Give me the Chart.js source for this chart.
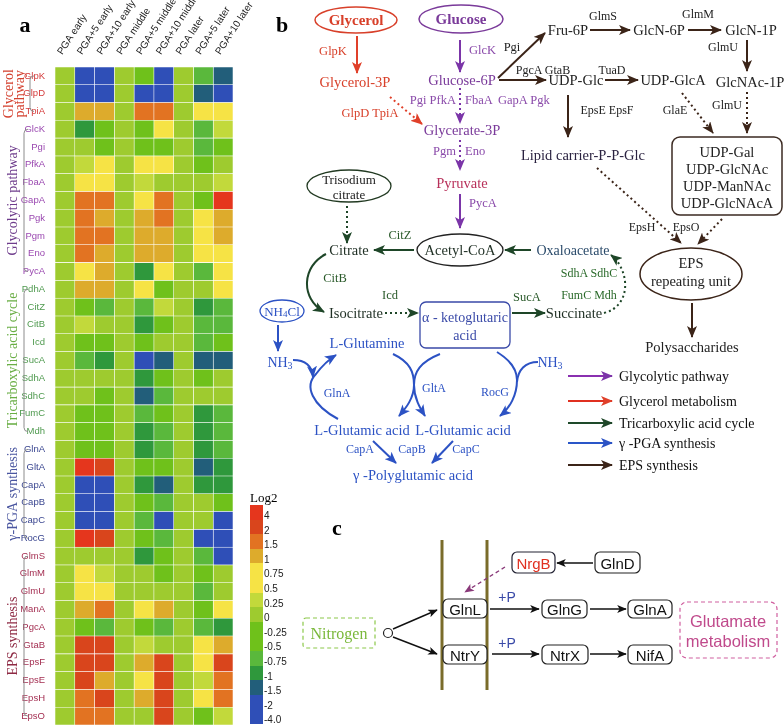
<!DOCTYPE html>
<html>
<head>
<meta charset="utf-8">
<script src="https://cdn.jsdelivr.net/npm/chart.js@4.4.1/dist/chart.umd.min.js"></script>
<style>
body { margin: 0; background: #fff; }
#page { position: relative; width: 784px; height: 728px; overflow: hidden; background: #fff; }
#heat { position: absolute; left: 0; top: 0; }
#diagram { position: absolute; left: 0; top: 0; pointer-events: none; }
#diagram text { dominant-baseline: central; text-anchor: middle; font-family: "Liberation Serif", serif; }
#diagram .sans { font-family: "Liberation Sans", Arial, sans-serif; }
.cb { position: absolute; left: 250px; width: 13px; }
.cbl { position: absolute; left: 264px; font: 10px "Liberation Sans", Arial, sans-serif; color: #222; line-height: 10px; }
#log2 { position: absolute; left: 250px; top: 490px; font: 13px "Liberation Serif", serif; }
</style>
</head>
<body>
<div id="page">
<canvas id="heat" width="262" height="728"></canvas>
<div id="log2">Log2</div>
<div id="colorbar"></div>

<svg id="diagram" width="784" height="728" viewBox="0 0 784 728">
<defs>
  <marker id="mRed" viewBox="0 0 12 10" refX="11" refY="5" markerWidth="12" markerHeight="10" markerUnits="userSpaceOnUse" orient="auto"><path d="M0,0 L12,5 L0,10 L3,5z" fill="#e0402a"/></marker>
  <marker id="mPur" viewBox="0 0 12 10" refX="11" refY="5" markerWidth="12" markerHeight="10" markerUnits="userSpaceOnUse" orient="auto"><path d="M0,0 L12,5 L0,10 L3,5z" fill="#7b35a8"/></marker>
  <marker id="mGrn" viewBox="0 0 12 10" refX="11" refY="5" markerWidth="12" markerHeight="10" markerUnits="userSpaceOnUse" orient="auto"><path d="M0,0 L12,5 L0,10 L3,5z" fill="#1e4628"/></marker>
  <marker id="mBlu" viewBox="0 0 12 10" refX="11" refY="5" markerWidth="12" markerHeight="10" markerUnits="userSpaceOnUse" orient="auto"><path d="M0,0 L12,5 L0,10 L3,5z" fill="#2c52c4"/></marker>
  <marker id="mBrn" viewBox="0 0 12 10" refX="11" refY="5" markerWidth="12" markerHeight="10" markerUnits="userSpaceOnUse" orient="auto"><path d="M0,0 L12,5 L0,10 L3,5z" fill="#3b2418"/></marker>
  <marker id="mBlk" viewBox="0 0 12 10" refX="11" refY="5" markerWidth="11" markerHeight="8" markerUnits="userSpaceOnUse" orient="auto"><path d="M0,0 L12,5 L0,10 L3,5z" fill="#111"/></marker>
  <marker id="mMag" viewBox="0 0 12 10" refX="11" refY="5" markerWidth="10" markerHeight="8" markerUnits="userSpaceOnUse" orient="auto"><path d="M0,0 L12,5 L0,10 L3,5z" fill="#8a3a7a"/></marker>
</defs>

<!-- panel letters -->
<text x="25" y="24" font-size="22" font-weight="bold">a</text>
<text x="282" y="24" font-size="22" font-weight="bold">b</text>
<text x="337" y="527" font-size="22" font-weight="bold">c</text>

<!-- glycerol / glycolysis -->
<ellipse cx="356" cy="20" rx="41" ry="13" fill="none" stroke="#d8402a" stroke-width="1.5"/>
<text x="356" y="20" font-size="15" font-weight="bold" fill="#d8402a">Glycerol</text>
<ellipse cx="461" cy="19" rx="42" ry="14" fill="none" stroke="#7a3a9a" stroke-width="1.5"/>
<text x="461" y="19" font-size="15" font-weight="bold" fill="#7a3a9a">Glucose</text>
<line x1="357" y1="36" x2="357" y2="73" stroke="#e0402a" stroke-width="2" marker-end="url(#mRed)"/>
<text x="333" y="51" font-size="12.5" fill="#d8402a">GlpK</text>
<text x="355" y="82" font-size="14.5" fill="#d8402a">Glycerol-3P</text>
<line x1="460" y1="40" x2="460" y2="72" stroke="#7b35a8" stroke-width="2" marker-end="url(#mPur)"/>
<text x="469" y="50" font-size="12.5" fill="#8a4aaa" style="text-anchor:start">GlcK</text>
<text x="462" y="80" font-size="14.5" fill="#7a3a9a">Glucose-6P</text>
<line x1="460" y1="88" x2="460" y2="123" stroke="#7b35a8" stroke-width="2" stroke-dasharray="2,3" marker-end="url(#mPur)"/>
<text x="456" y="100" font-size="12.5" fill="#8a4aaa" style="text-anchor:end">Pgi PfkA</text>
<text x="465" y="100" font-size="12.5" fill="#8a4aaa" style="text-anchor:start">FbaA</text>
<text x="498" y="100" font-size="12.5" fill="#8a4aaa" style="text-anchor:start">GapA Pgk</text>
<line x1="390" y1="97" x2="422" y2="124" stroke="#e0402a" stroke-width="2" stroke-dasharray="2,3" marker-end="url(#mRed)"/>
<text x="370" y="113" font-size="12.5" fill="#d8402a">GlpD TpiA</text>
<text x="462" y="130" font-size="14.5" fill="#7a3a9a">Glycerate-3P</text>
<line x1="460" y1="140" x2="460" y2="170" stroke="#7b35a8" stroke-width="2" stroke-dasharray="2,3" marker-end="url(#mPur)"/>
<text x="456" y="151" font-size="12.5" fill="#8a4aaa" style="text-anchor:end">Pgm</text>
<text x="465" y="151" font-size="12.5" fill="#8a4aaa" style="text-anchor:start">Eno</text>
<text x="462" y="183" font-size="14.5" fill="#b8305a">Pyruvate</text>
<line x1="460" y1="194" x2="460" y2="228" stroke="#7b35a8" stroke-width="2" marker-end="url(#mPur)"/>
<text x="469" y="203" font-size="12.5" fill="#8a4aaa" style="text-anchor:start">PycA</text>

<!-- TCA -->
<ellipse cx="349" cy="186" rx="42" ry="16" fill="none" stroke="#223a22" stroke-width="1.3"/>
<text x="349" y="179" font-size="13" fill="#222">Trisodium</text>
<text x="349" y="194" font-size="13" fill="#222">citrate</text>
<line x1="347" y1="206" x2="347" y2="243" stroke="#1e4628" stroke-width="2" stroke-dasharray="2,3" marker-end="url(#mGrn)"/>
<text x="349" y="250" font-size="14.5" fill="#1f2f24">Citrate</text>
<ellipse cx="460" cy="250" rx="43" ry="16" fill="none" stroke="#222" stroke-width="1.3"/>
<text x="460" y="250" font-size="14.5" fill="#1f2f24">Acetyl-CoA</text>
<line x1="414" y1="250" x2="374" y2="250" stroke="#1e4628" stroke-width="2" marker-end="url(#mGrn)"/>
<text x="400" y="235" font-size="12.5" fill="#2a5a2a">CitZ</text>
<line x1="531" y1="250" x2="505" y2="250" stroke="#1e4628" stroke-width="2" marker-end="url(#mGrn)"/>
<text x="573" y="250" font-size="14" fill="#2a4a6a">Oxaloacetate</text>
<path d="M326 254 C302 266, 300 298, 324 312" fill="none" stroke="#1e4628" stroke-width="2" marker-end="url(#mGrn)"/>
<text x="335" y="278" font-size="12.5" fill="#2a5a2a">CitB</text>
<text x="356" y="313" font-size="14.5" fill="#1f2f24">Isocitrate</text>
<text x="390" y="295" font-size="12.5" fill="#2a5a2a">Icd</text>
<line x1="385" y1="313" x2="418" y2="313" stroke="#1e4628" stroke-width="2" stroke-dasharray="2,3" marker-end="url(#mGrn)"/>
<rect x="420" y="302" width="90" height="46" rx="6" fill="none" stroke="#3a4aa8" stroke-width="1.3"/>
<text x="465" y="317" font-size="14" fill="#3a4aa8">α - ketoglutaric</text>
<text x="465" y="335" font-size="14" fill="#3a4aa8">acid</text>
<line x1="512" y1="313" x2="545" y2="313" stroke="#1e4628" stroke-width="2" marker-end="url(#mGrn)"/>
<text x="527" y="297" font-size="12.5" fill="#2a5a2a">SucA</text>
<text x="574" y="313" font-size="14.5" fill="#1f2f24">Succinate</text>
<path d="M604 313 C632 306, 630 270, 611 255" fill="none" stroke="#1e4628" stroke-width="2" stroke-dasharray="2,3" marker-end="url(#mGrn)"/>
<text x="589" y="273" font-size="12" fill="#2a6a2a">SdhA SdhC</text>
<text x="589" y="295" font-size="12" fill="#2a6a2a">FumC Mdh</text>

<!-- gamma-PGA -->
<ellipse cx="282" cy="311" rx="22" ry="11" fill="none" stroke="#2c52c4" stroke-width="1.3"/>
<text x="282" y="311" font-size="13" fill="#2c52c4">NH<tspan font-size="9" dy="3">4</tspan><tspan dy="-3">Cl</tspan></text>
<line x1="278" y1="325" x2="278" y2="351" stroke="#2c52c4" stroke-width="2" marker-end="url(#mBlu)"/>
<text x="280" y="362" font-size="14" fill="#2c52c4">NH<tspan font-size="10" dy="3">3</tspan></text>
<text x="367" y="343" font-size="14.5" fill="#2c52c4">L-Glutamine</text>
<path d="M338 419 C312 405, 304 386, 316 374 C322 366, 328 360, 336 355" fill="none" stroke="#2c52c4" stroke-width="2" marker-end="url(#mBlu)"/>
<path d="M293 360 C306 360, 312 366, 313 377" fill="none" stroke="#2c52c4" stroke-width="2" marker-end="url(#mBlu)"/>
<text x="337" y="393" font-size="12" fill="#2c52c4">GlnA</text>
<path d="M393 354 C410 362, 414 372, 414 385 C414 398, 420 408, 425 416" fill="none" stroke="#2c52c4" stroke-width="2" marker-end="url(#mBlu)"/>
<path d="M440 354 C420 362, 414 372, 414 385 C414 398, 406 408, 399 416" fill="none" stroke="#2c52c4" stroke-width="2" marker-end="url(#mBlu)"/>
<text x="434" y="388" font-size="12" fill="#2c52c4">GltA</text>
<path d="M497 352 C510 360, 517 370, 517 380 C517 395, 510 408, 500 416" fill="none" stroke="#2c52c4" stroke-width="2" marker-end="url(#mBlu)"/>
<path d="M538 362 C525 362, 518 370, 517 382" fill="none" stroke="#2c52c4" stroke-width="2"/>
<text x="550" y="362" font-size="14" fill="#2c52c4">NH<tspan font-size="10" dy="3">3</tspan></text>
<text x="495" y="392" font-size="12" fill="#2c52c4">RocG</text>
<text x="362" y="430" font-size="14.5" fill="#2c52c4">L-Glutamic acid</text>
<text x="463" y="430" font-size="14.5" fill="#2c52c4">L-Glutamic acid</text>
<line x1="373" y1="441" x2="396" y2="463" stroke="#2c52c4" stroke-width="2" marker-end="url(#mBlu)"/>
<line x1="453" y1="441" x2="432" y2="463" stroke="#2c52c4" stroke-width="2" marker-end="url(#mBlu)"/>
<text x="360" y="449" font-size="12" fill="#2c52c4">CapA</text>
<text x="412" y="449" font-size="12" fill="#2c52c4">CapB</text>
<text x="466" y="449" font-size="12" fill="#2c52c4">CapC</text>
<text x="413" y="475" font-size="14.5" fill="#2c52c4">γ -Polyglutamic acid</text>

<!-- pathway legend -->
<line x1="568" y1="376" x2="612" y2="376" stroke="#8a30b0" stroke-width="2" marker-end="url(#mPur)"/>
<line x1="568" y1="401" x2="612" y2="401" stroke="#e03020" stroke-width="2" marker-end="url(#mRed)"/>
<line x1="568" y1="423" x2="612" y2="423" stroke="#1e4a2a" stroke-width="2" marker-end="url(#mGrn)"/>
<line x1="568" y1="443" x2="612" y2="443" stroke="#2a56c8" stroke-width="2" marker-end="url(#mBlu)"/>
<line x1="568" y1="465" x2="612" y2="465" stroke="#3b2418" stroke-width="2" marker-end="url(#mBrn)"/>
<text x="619" y="376" font-size="14" fill="#111" style="text-anchor:start">Glycolytic pathway</text>
<text x="619" y="401" font-size="14" fill="#111" style="text-anchor:start">Glycerol metabolism</text>
<text x="619" y="423" font-size="14" fill="#111" style="text-anchor:start">Tricarboxylic acid cycle</text>
<text x="619" y="443" font-size="14" fill="#111" style="text-anchor:start">γ -PGA synthesis</text>
<text x="619" y="465" font-size="14" fill="#111" style="text-anchor:start">EPS synthesis</text>

<!-- EPS branch -->
<line x1="498" y1="78" x2="545" y2="33" stroke="#3b2418" stroke-width="2" marker-end="url(#mBrn)"/>
<text x="512" y="47" font-size="12.5" fill="#222">Pgi</text>
<line x1="499" y1="80" x2="546" y2="80" stroke="#3b2418" stroke-width="2" marker-end="url(#mBrn)"/>
<text x="543" y="70" font-size="12" fill="#222">PgcA GtaB</text>
<text x="568" y="30" font-size="14.5" fill="#222">Fru-6P</text>
<line x1="590" y1="30" x2="630" y2="30" stroke="#3b2418" stroke-width="2" marker-end="url(#mBrn)"/>
<text x="603" y="16" font-size="12" fill="#222">GlmS</text>
<text x="659" y="30" font-size="14.5" fill="#222">GlcN-6P</text>
<line x1="688" y1="30" x2="721" y2="30" stroke="#3b2418" stroke-width="2" marker-end="url(#mBrn)"/>
<text x="698" y="14" font-size="12" fill="#222">GlmM</text>
<text x="751" y="30" font-size="14.5" fill="#222">GlcN-1P</text>
<line x1="747" y1="40" x2="747" y2="71" stroke="#3b2418" stroke-width="2" marker-end="url(#mBrn)"/>
<text x="723" y="47" font-size="12" fill="#222">GlmU</text>
<text x="750" y="82" font-size="14.5" fill="#222">GlcNAc-1P</text>
<text x="576" y="80" font-size="14.5" fill="#222">UDP-Glc</text>
<line x1="605" y1="80" x2="638" y2="80" stroke="#3b2418" stroke-width="2" marker-end="url(#mBrn)"/>
<text x="612" y="70" font-size="12" fill="#222">TuaD</text>
<text x="673" y="80" font-size="14.5" fill="#222">UDP-GlcA</text>
<line x1="747" y1="92" x2="747" y2="133" stroke="#3b2418" stroke-width="2" stroke-dasharray="2,3" marker-end="url(#mBrn)"/>
<text x="727" y="105" font-size="12" fill="#222">GlmU</text>
<line x1="682" y1="93" x2="713" y2="133" stroke="#3b2418" stroke-width="2" stroke-dasharray="2,3" marker-end="url(#mBrn)"/>
<text x="675" y="110" font-size="12" fill="#222">GlaE</text>
<rect x="672" y="137" width="110" height="78" rx="8" fill="none" stroke="#3b2a22" stroke-width="1.5"/>
<text x="727" y="152" font-size="14.5" fill="#222">UDP-Gal</text>
<text x="727" y="169" font-size="14.5" fill="#222">UDP-GlcNAc</text>
<text x="727" y="186" font-size="14.5" fill="#222">UDP-ManNAc</text>
<text x="727" y="203" font-size="14.5" fill="#222">UDP-GlcNAcA</text>
<line x1="568" y1="95" x2="568" y2="137" stroke="#3b2418" stroke-width="2" marker-end="url(#mBrn)"/>
<text x="607" y="110" font-size="12" fill="#222">EpsE EpsF</text>
<text x="583" y="155" font-size="14.5" fill="#2a2240">Lipid carrier-P-P-Glc</text>
<line x1="597" y1="168" x2="681" y2="243" stroke="#3b2418" stroke-width="2" stroke-dasharray="2,3" marker-end="url(#mBrn)"/>
<line x1="722" y1="219" x2="698" y2="244" stroke="#3b2418" stroke-width="2" stroke-dasharray="2,3" marker-end="url(#mBrn)"/>
<text x="642" y="227" font-size="12" fill="#222">EpsH</text>
<text x="686" y="227" font-size="12" fill="#222">EpsO</text>
<ellipse cx="691" cy="274" rx="51" ry="26" fill="none" stroke="#3b2418" stroke-width="1.5"/>
<text x="691" y="263" font-size="14.5" fill="#222">EPS</text>
<text x="691" y="281" font-size="14.5" fill="#222">repeating unit</text>
<line x1="692" y1="303" x2="692" y2="337" stroke="#3b2418" stroke-width="2" marker-end="url(#mBrn)"/>
<text x="692" y="347" font-size="14.5" fill="#222">Polysaccharides</text>

<!-- panel c -->
<line x1="442" y1="540" x2="442" y2="690" stroke="#7a6c2a" stroke-width="3"/>
<line x1="487" y1="540" x2="487" y2="690" stroke="#7a6c2a" stroke-width="3"/>
<line x1="593" y1="563" x2="557" y2="563" stroke="#111" stroke-width="1.4" marker-end="url(#mBlk)"/>
<line x1="505" y1="567" x2="465" y2="592" stroke="#8a3a7a" stroke-width="1.3" stroke-dasharray="4,3" marker-end="url(#mMag)"/>
<rect x="512" y="552" width="43" height="21" rx="5" fill="#fff" stroke="#223" stroke-width="1.2"/>
<text class="sans" x="533.5" y="563" font-size="15" fill="#e03020">NrgB</text>
<rect x="595" y="552" width="45" height="21" rx="5" fill="#fff" stroke="#222" stroke-width="1.2"/>
<text class="sans" x="617.5" y="563" font-size="15" fill="#111">GlnD</text>
<rect x="443" y="599" width="44" height="19" rx="5" fill="#fff" stroke="#222" stroke-width="1.2"/>
<text class="sans" x="465" y="609" font-size="15" fill="#111">GlnL</text>
<rect x="443" y="645" width="44" height="19" rx="5" fill="#fff" stroke="#222" stroke-width="1.2"/>
<text class="sans" x="465" y="655" font-size="15" fill="#111">NtrY</text>
<rect x="542" y="600" width="45" height="18" rx="5" fill="#fff" stroke="#222" stroke-width="1.2"/>
<text class="sans" x="564.5" y="609" font-size="15" fill="#111">GlnG</text>
<rect x="628" y="600" width="44" height="18" rx="5" fill="#fff" stroke="#222" stroke-width="1.2"/>
<text class="sans" x="650" y="609" font-size="15" fill="#111">GlnA</text>
<rect x="542" y="645" width="46" height="19" rx="5" fill="#fff" stroke="#222" stroke-width="1.2"/>
<text class="sans" x="565" y="655" font-size="15" fill="#111">NtrX</text>
<rect x="628" y="645" width="44" height="19" rx="5" fill="#fff" stroke="#222" stroke-width="1.2"/>
<text class="sans" x="650" y="655" font-size="15" fill="#111">NifA</text>
<line x1="490" y1="609" x2="539" y2="609" stroke="#111" stroke-width="1.4" marker-end="url(#mBlk)"/>
<line x1="590" y1="609" x2="626" y2="609" stroke="#111" stroke-width="1.4" marker-end="url(#mBlk)"/>
<line x1="492" y1="654" x2="539" y2="654" stroke="#111" stroke-width="1.4" marker-end="url(#mBlk)"/>
<line x1="590" y1="654" x2="626" y2="654" stroke="#111" stroke-width="1.4" marker-end="url(#mBlk)"/>
<text class="sans" x="507" y="597" font-size="14" fill="#3a4aa8">+P</text>
<text class="sans" x="507" y="643" font-size="14" fill="#3a4aa8">+P</text>
<rect x="303" y="618" width="72" height="30" rx="3" fill="none" stroke="#8cc84a" stroke-width="1.2" stroke-dasharray="4,3"/>
<text x="339" y="633" font-size="16" fill="#7ab83a">Nitrogen</text>
<circle cx="388" cy="633" r="4.5" fill="#fff" stroke="#222" stroke-width="1.2"/>
<line x1="393" y1="629" x2="437" y2="610" stroke="#111" stroke-width="1.4" marker-end="url(#mBlk)"/>
<line x1="393" y1="637" x2="437" y2="654" stroke="#111" stroke-width="1.4" marker-end="url(#mBlk)"/>
<rect x="680" y="602" width="97" height="56" rx="7" fill="none" stroke="#d060a0" stroke-width="1.2" stroke-dasharray="4,3"/>
<text class="sans" x="728" y="621" font-size="16.5" fill="#c04a8c">Glutamate</text>
<text class="sans" x="728" y="641" font-size="16.5" fill="#c04a8c">metabolism</text>
</svg>
</div>

<script>
// Conditions (columns)
const columns = ["PGA early", "PGA+5 early", "PGA+10 early", "PGA middle", "PGA+5 middle",
    "PGA+10 middle", "PGA later", "PGA+5 later", "PGA+10 later"];

// Genes (rows)
const genes = ["GlpK", "GlpD", "TpiA",
    "GlcK", "Pgi", "PfkA", "FbaA", "GapA", "Pgk", "Pgm", "Eno", "PycA",
    "PdhA", "CitZ", "CitB", "Icd", "SucA", "SdhA", "SdhC", "FumC", "Mdh",
    "GlnA", "GltA", "CapA", "CapB", "CapC", "RocG",
    "GlmS", "GlmM", "GlmU", "ManA", "PgcA", "GtaB", "EpsF", "EpsE", "EpsH", "EpsO"];

// Pathway group of each gene
const geneGroup = [0, 0, 0, 1, 1, 1, 1, 1, 1, 1, 1, 1, 2, 2, 2, 2, 2, 2, 2, 2, 2,
    3, 3, 3, 3, 3, 3, 4, 4, 4, 4, 4, 4, 4, 4, 4, 4];
const groups = [["Glycerol", "pathway"], ["Glycolytic pathway"], ["Tricarboxylic acid cycle"],
    ["γ-PGA synthesis"], ["EPS synthesis"]];
const groupColors = ["#d4402e", "#6e3c8c", "#6aae45", "#4a56a0", "#8e2a44"];
const rowColors = ["#d43a3a", "#9a48b0", "#4f9a4f", "#3a4690", "#a42f52"];

// Log2 fold change, one row per gene
const log2Values = [
    [0.1, -2.5, -2.5, 0.1, -0.3, -2.5, 0.1, -0.6, -1.2],
    [0.1, -2.5, -2.5, 0.1, -2.5, -2.5, 0.1, -1.2, -2.5],
    [0.1, 1.2, 1.2, 0.1, 1.7, 1.7, 0.1, 0.8, 0.8],
    [0.1, -0.9, -0.3, 0.1, -0.3, 0.8, 0.1, -0.6, 0.35],
    [0.1, 0.1, -0.3, 0.1, -0.3, -0.3, 0.1, -0.6, -0.3],
    [0.1, 0.35, 0.8, 0.1, 0.8, 0.8, 0.1, -0.3, 0.1],
    [0.1, 0.8, 0.8, 0.1, 0.35, 0.1, 0.1, 0.1, 0.35],
    [0.1, 1.7, 1.7, 0.1, 0.8, 1.7, 0.1, -0.3, 4.2],
    [0.1, 1.7, 1.2, 0.1, 1.2, 1.7, 0.1, 0.8, 1.2],
    [0.1, 1.7, 1.7, 0.1, 1.2, 1.2, 0.1, 0.8, 1.2],
    [0.1, 1.7, 1.2, 0.1, 1.2, 1.2, 0.1, 0.8, 0.8],
    [0.1, 0.8, 1.2, 0.1, -0.9, 0.8, 0.1, -0.6, 0.8],
    [0.1, 1.2, 1.2, 0.1, 0.8, -0.3, 0.1, 0.1, 0.8],
    [0.1, -0.3, -0.6, 0.1, -0.6, 0.35, 0.1, -0.9, -0.6],
    [0.1, 0.35, 0.1, 0.1, -0.9, -0.3, 0.1, -0.6, -0.6],
    [0.1, -0.3, -0.3, 0.1, -0.3, 0.1, 0.1, -0.6, -0.3],
    [0.1, -0.6, -0.9, 0.1, -2.5, -1.2, 0.1, -1.2, -1.2],
    [0.1, 0.1, 0.1, 0.1, -0.9, -0.3, 0.1, -0.3, 0.1],
    [0.1, 0.1, -0.3, 0.1, -1.2, -0.6, 0.1, 0.1, 0.1],
    [0.1, -0.3, -0.3, 0.1, -0.6, -0.3, 0.1, -0.9, -0.6],
    [0.1, -0.3, -0.3, 0.1, -0.9, -0.6, 0.1, -0.9, -0.6],
    [0.1, -0.3, -0.3, 0.1, -0.9, -0.6, 0.1, -0.9, -0.6],
    [0.1, 4.2, 2.5, 0.1, -0.3, -0.3, 0.1, -1.2, -0.9],
    [0.1, -2.5, -2.5, 0.1, -0.9, -1.2, 0.1, -0.9, -0.9],
    [0.1, -2.5, -2.5, 0.1, -0.3, -0.6, 0.1, 0.1, -0.3],
    [0.1, -2.5, -2.5, 0.1, -0.6, -2.5, 0.1, 0.1, -2.5],
    [0.1, 4.2, 2.5, 0.1, -0.3, -0.6, 0.1, -2.5, -2.5],
    [0.1, 0.1, 0.1, 0.1, -0.9, -0.3, 0.1, -0.6, -2.5],
    [0.1, 0.8, 0.35, 0.1, 0.1, -0.3, 0.1, -0.3, 0.1],
    [0.1, 0.8, 0.8, 0.1, 0.1, 0.1, 0.1, -0.6, 0.1],
    [0.1, 1.2, 1.7, 0.1, 0.8, 1.2, 0.1, -0.3, 0.8],
    [0.1, -0.3, -0.6, 0.1, -0.3, -0.6, 0.1, -0.6, -0.9],
    [0.1, 2.5, 2.5, 0.1, 0.35, 0.1, 0.1, 0.8, 1.2],
    [0.1, 2.5, 2.5, 0.1, 1.2, 2.5, 0.1, 0.8, 2.5],
    [0.1, 2.5, 1.2, 0.1, 0.8, 2.5, 0.1, 0.35, 1.7],
    [0.1, 1.7, 2.5, 0.1, 1.2, 2.5, 0.1, 0.8, 1.7],
    [0.1, 1.7, 1.7, 0.1, 0.1, 2.5, 0.1, -0.3, 0.35]
];

// Colour scale (Log2)
const legendLabels = ["4", "2", "1.5", "1", "0.75", "0.5", "0.25", "0", "-0.25", "-0.5", "-0.75", "-1", "-1.5", "-2", "-4.0"];
const legendSteps = [4, 2, 1.5, 1, 0.75, 0.5, 0.25, 0, -0.25, -0.5, -0.75, -1, -1.5, -2, -4];
const legendColors = ["#e5361d", "#d9451c", "#e27322", "#ddab2c", "#f6e345", "#f6e345", "#c2d93b", "#9ecb2f",
    "#6fc11b", "#6fc11b", "#5ab83c", "#2f983c", "#225e7a", "#2f4fb7", "#2f4fb7"];

function colorFor(v) {
    for (let i = 0; i < legendSteps.length; i++) {
        if (v >= legendSteps[i]) return legendColors[i];
    }
    return legendColors[legendColors.length - 1];
}

// Colour bar
const bar = document.getElementById("colorbar");
legendColors.forEach((c, i) => {
    const box = document.createElement("div");
    box.className = "cb";
    box.style.top = (505 + i * 14.6) + "px";
    box.style.height = "14.8px";
    box.style.background = c;
    bar.appendChild(box);
    const lab = document.createElement("div");
    lab.className = "cbl";
    lab.style.top = (505 + i * 14.6 + 6) + "px";
    lab.textContent = legendLabels[i];
    bar.appendChild(lab);
});

// Group brackets + labels on the left
const groupPlugin = {
    id: "groups",
    afterDraw(chart) {
        const ctx = chart.ctx;
        const y = chart.scales.y;
        groups.forEach((g, k) => {
            const rows = geneGroup.map((gg, i) => gg === k ? i : -1).filter(i => i >= 0);
            const y0 = y.getPixelForValue(rows[0]);
            const y1 = y.getPixelForValue(rows[rows.length - 1]);
            const bx = k === 0 ? 30 : 24;
            ctx.save();
            ctx.strokeStyle = "#8c8c8c";
            ctx.lineWidth = 1;
            ctx.beginPath();
            ctx.moveTo(bx + 4, y0);
            ctx.quadraticCurveTo(bx, y0, bx, y0 + 4);
            ctx.lineTo(bx, y1 - 4);
            ctx.quadraticCurveTo(bx, y1, bx + 4, y1);
            ctx.stroke();

            ctx.fillStyle = groupColors[k];
            ctx.font = "14px 'Liberation Serif', serif";
            ctx.textAlign = "center";
            ctx.textBaseline = "middle";
            ctx.translate(0, (y0 + y1) / 2);
            ctx.rotate(-Math.PI / 2);
            if (g.length === 2) {
                ctx.fillText(g[0], 0, 9);
                ctx.fillText(g[1], 0, 20);
            } else {
                ctx.fillText(g[0], 0, 13);
            }
            ctx.restore();
        });
    }
};

// Heatmap
const heatChart = new Chart(document.getElementById("heat"), {
    type: "bar",
    data: {
        labels: genes,
        datasets: columns.map((col, j) => ({
            label: col,
            data: genes.map(() => 1),
            backgroundColor: log2Values.map(row => colorFor(row[j])),
            borderColor: "rgba(255,255,255,0.75)",
            borderWidth: 0.6,
            borderSkipped: false,
            barPercentage: 1,
            categoryPercentage: 1,
            xAxisID: "x",
            yAxisID: "y"
        }))
    },
    options: {
        indexAxis: "y",
        responsive: false,
        animation: false,
        devicePixelRatio: 1,
        layout: { padding: { left: 0, right: 29, top: 0, bottom: 3 } },
        plugins: { legend: { display: false }, tooltip: { enabled: false } },
        scales: {
            x: { type: "linear", stacked: true, min: 0, max: columns.length, display: false },
            xTop: {
                axis: "x",
                type: "category",
                labels: columns,
                position: "top",
                offset: true,
                grid: { display: false },
                border: { display: false },
                ticks: {
                    autoSkip: false,
                    minRotation: 57,
                    maxRotation: 57,
                    padding: 2,
                    labelOffset: 5,
                    color: "#222",
                    font: { family: "'Liberation Sans', Arial", size: 10 }
                },
                afterFit(s) {
                    s.height = 67;
                    s.paddingLeft = 0;
                    s.paddingRight = 0;
                }
            },
            y: {
                type: "category",
                stacked: true,
                grid: { display: false },
                border: { display: false },
                ticks: {
                    autoSkip: false,
                    padding: 2,
                    color: c => rowColors[geneGroup[c.index]],
                    font: { family: "'Liberation Sans', Arial", size: 9.5 }
                },
                afterFit(s) {
                    s.width = 55;
                    s.paddingTop = 0;
                    s.paddingBottom = 0;
                }
            }
        }
    },
    plugins: [groupPlugin]
});
</script>
</body>
</html>
